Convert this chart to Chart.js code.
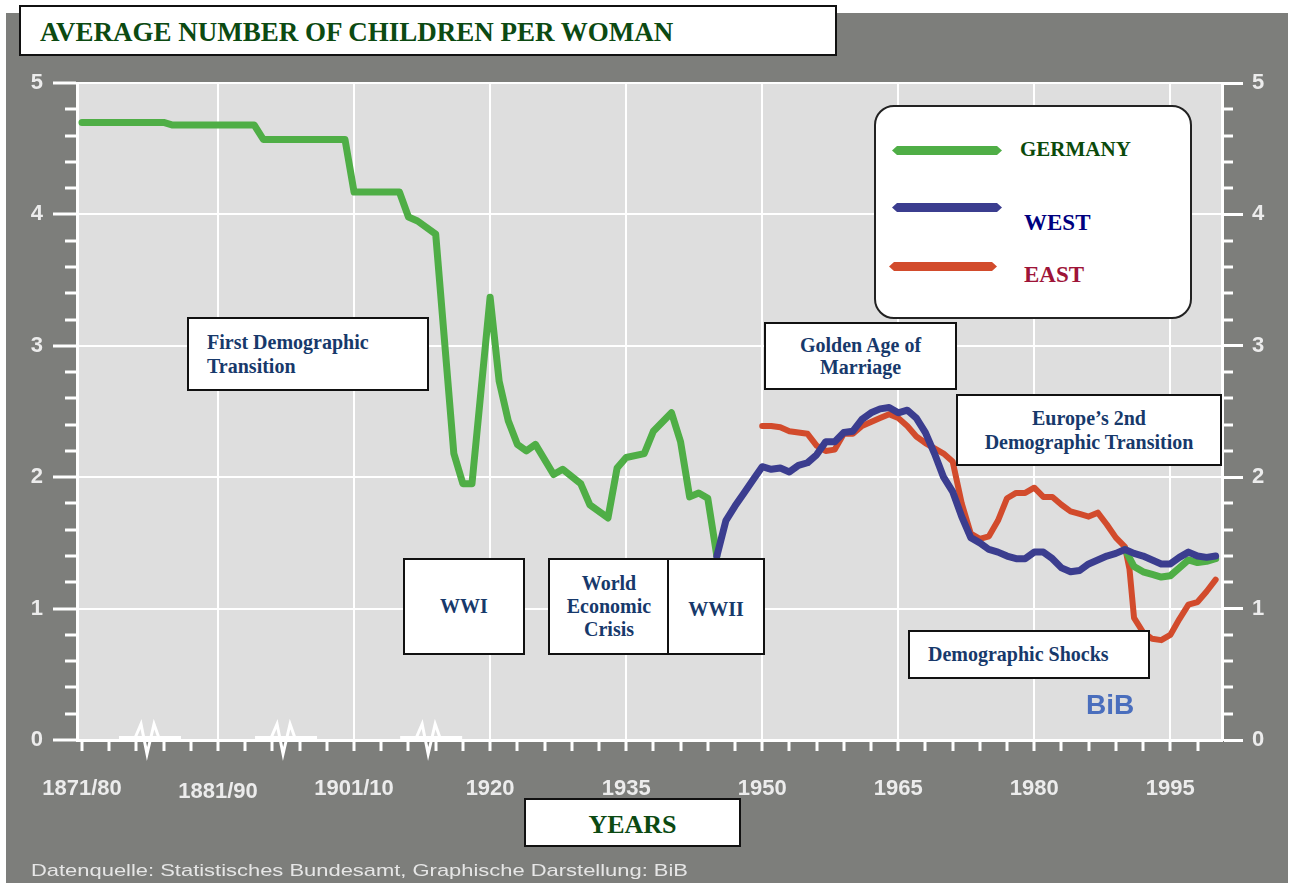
<!DOCTYPE html>
<html>
<head>
<meta charset="utf-8">
<script src="https://cdn.jsdelivr.net/npm/chart.js@4.4.1/dist/chart.umd.min.js"></script>
<style>
html,body{margin:0;padding:0;background:#fff;}
#wrap{position:relative;width:1290px;height:883px;overflow:hidden;background:#fff;}
#c{position:absolute;left:0;top:0;}
.box{position:absolute;box-sizing:border-box;background:#fff;border:2px solid #111;display:flex;flex-direction:column;justify-content:center;align-items:center;text-align:center;font-family:"Liberation Serif","Times New Roman",serif;font-weight:bold;font-size:20px;line-height:23px;color:#17396b;}
.box.left{align-items:flex-start;text-align:left;padding-left:18px;}
.serif{font-family:"Liberation Serif","Times New Roman",serif;font-weight:bold;}
.abs{position:absolute;white-space:nowrap;}
.lg{position:absolute;height:9px;clip-path:polygon(5px 0,calc(100% - 5px) 0,100% 50%,calc(100% - 5px) 100%,5px 100%,0 50%);}
</style>
</head>
<body>
<div id="wrap">
  <canvas id="c" width="1290" height="883"></canvas>

  <div class="box" style="left:19px;top:5px;width:818px;height:51px;display:block;padding:12px 0 0 19px;text-align:left;">
    <span style="font-size:27px;line-height:27px;color:#0c4a12;">AVERAGE NUMBER OF CHILDREN PER WOMAN</span>
  </div>

  <div class="box left" style="left:187px;top:317px;width:242px;height:74px;line-height:24px;">First Demographic<br>Transition</div>
  <div class="box" style="left:403px;top:558px;width:122px;height:97px;">WWI</div>
  <div class="box" style="left:548px;top:558px;width:122px;height:97px;">World<br>Economic<br>Crisis</div>
  <div class="box" style="left:667px;top:558px;width:98px;height:97px;padding-top:6px;">WWII</div>
  <div class="box" style="left:764px;top:322px;width:193px;height:68px;line-height:22px;">Golden Age of<br>Marriage</div>
  <div class="box" style="left:956px;top:394px;width:266px;height:72px;line-height:24px;">Europe’s 2nd<br>Demographic Transition</div>
  <div class="box left" style="left:908px;top:630px;width:242px;height:49px;">Demographic Shocks</div>

  <div class="box" style="left:524px;top:798px;width:217px;height:49px;padding-top:4px;">
    <span style="font-size:26px;line-height:26px;color:#0c4a12;">YEARS</span>
  </div>

  <!-- legend -->
  <div style="position:absolute;left:874px;top:105px;width:318px;height:214px;box-sizing:border-box;background:#fff;border:2px solid #222;border-radius:20px;"></div>
  <div class="lg" style="left:892px;top:146px;width:110px;background:#4fae46;"></div>
  <div class="lg" style="left:892px;top:203px;width:110px;background:#3b3d8f;"></div>
  <div class="lg" style="left:889px;top:262px;width:108px;background:#d24b2c;"></div>
  <div class="abs serif" style="left:1020px;top:139px;font-size:21px;line-height:21px;color:#0b4a0b;">GERMANY</div>
  <div class="abs serif" style="left:1024px;top:211px;font-size:23px;line-height:23px;color:#00007f;">WEST</div>
  <div class="abs serif" style="left:1024px;top:263px;font-size:23px;line-height:23px;color:#9e1438;">EAST</div>

  <div class="abs" style="left:1086px;top:691px;font-family:'Liberation Sans',Arial,sans-serif;font-weight:bold;font-size:28px;line-height:28px;color:#4a6ebd;">BiB</div>
  <div id="foot" class="abs" style="left:31px;top:862px;font-family:'Liberation Sans',Arial,sans-serif;font-size:17px;line-height:17px;color:#e6e6e6;transform-origin:0 0;">Datenquelle: Statistisches Bundesamt, Graphische Darstellung: BiB</div>
</div>

<script>
// ---- data (x = position on the year axis; pre-1920 section is compressed) ----
const germanyYears  = [1875,1884,1885,1894,1895,1904,1905,1910,1911,1912,1914,1916,1917,1918,1920,1921,1922,1923,1924,1925,1927,1928,1930,1931,1933,1934,1935,1937,1938,1940,1941,1942,1943,1944,1945,1967,1990,1991,1992,1993,1994,1995,1996,1997,1998,1999,2000];
const germanyValues = [4.70,4.70,4.68,4.68,4.57,4.57,4.17,4.17,3.98,3.95,3.85,2.18,1.95,1.95,3.37,2.73,2.43,2.25,2.20,2.25,2.02,2.06,1.95,1.79,1.69,2.07,2.15,2.18,2.35,2.49,2.27,1.85,1.88,1.84,1.40,null,1.45,1.32,1.28,1.26,1.24,1.25,1.31,1.37,1.35,1.36,1.38];

const westYears  = [1945,1946,1947,1948,1949,1950,1951,1952,1953,1954,1955,1956,1957,1958,1959,1960,1961,1962,1963,1964,1965,1966,1967,1968,1969,1970,1971,1972,1973,1974,1975,1976,1977,1978,1979,1980,1981,1982,1983,1984,1985,1986,1987,1988,1989,1990,1991,1992,1993,1994,1995,1996,1997,1998,1999,2000];
const westValues = [1.40,1.67,1.78,1.88,1.98,2.08,2.06,2.07,2.04,2.09,2.11,2.17,2.27,2.27,2.34,2.35,2.44,2.49,2.52,2.53,2.49,2.51,2.45,2.34,2.18,2.00,1.89,1.70,1.54,1.50,1.45,1.43,1.40,1.38,1.38,1.43,1.43,1.38,1.31,1.28,1.29,1.34,1.37,1.40,1.42,1.45,1.42,1.40,1.37,1.34,1.34,1.39,1.43,1.40,1.39,1.40];

const eastYears  = [1950,1951,1952,1953,1954,1955,1956,1957,1958,1959,1960,1961,1962,1963,1964,1965,1966,1967,1968,1969,1970,1971,1972,1973,1974,1975,1976,1977,1978,1979,1980,1981,1982,1983,1984,1985,1986,1987,1988,1989,1990,1990.5,1991,1992,1993,1994,1995,1996,1997,1998,1999,2000];
const eastValues = [2.39,2.39,2.38,2.35,2.34,2.33,2.24,2.20,2.21,2.33,2.33,2.39,2.42,2.45,2.48,2.45,2.39,2.31,2.26,2.22,2.18,2.12,1.80,1.57,1.53,1.55,1.67,1.84,1.88,1.88,1.92,1.85,1.85,1.79,1.74,1.72,1.70,1.73,1.64,1.54,1.47,1.30,0.93,0.82,0.77,0.76,0.80,0.92,1.03,1.05,1.13,1.22];

const xTickPositions = [1875,1890,1905,1920,1935,1950,1965,1980,1995];
const xTickLabels    = ['1871/80','1881/90','1901/10','1920','1935','1950','1965','1980','1995'];
const yMinorTicks    = [0.2,0.4,0.6,0.8,1.2,1.4,1.6,1.8,2.2,2.4,2.6,2.8,3.2,3.4,3.6,3.8,4.2,4.4,4.6,4.8];
const axisBreaks     = [1882.5,1897.5,1913.5];

const toPts = (xs, ys) => xs.map((x, i) => ({x: x, y: ys[i]}));

const AXIS_FONT = 'Liberation Sans, Arial, sans-serif';
const WHITE = '#ffffff';

const decor = {
  id: 'decor',
  beforeDraw(chart) {
    const {ctx, chartArea: a} = chart;
    ctx.save();
    ctx.fillStyle = '#7d7e7b';
    ctx.fillRect(6, 13, 1282, 870);
    ctx.fillStyle = '#dedede';
    ctx.fillRect(a.left, a.top, a.right - a.left, a.bottom - a.top);
    ctx.restore();
  },
  afterDraw(chart) {
    const {ctx, chartArea: a, scales} = chart;
    ctx.save();
    ctx.strokeStyle = WHITE;
    ctx.lineWidth = 3;
    yMinorTicks.forEach(v => {
      const y = Math.round(scales.y.getPixelForValue(v));
      ctx.beginPath(); ctx.moveTo(a.left - 12, y); ctx.lineTo(a.left, y); ctx.stroke();
      ctx.beginPath(); ctx.moveTo(a.right, y); ctx.lineTo(a.right + 11, y); ctx.stroke();
    });
    const y0 = scales.y.getPixelForValue(0);
    axisBreaks.forEach(b => {
      const cx = scales.x.getPixelForValue(b);
      ctx.lineWidth = 4;
      ctx.beginPath(); ctx.moveTo(cx - 31, y0 - 2); ctx.lineTo(cx + 31, y0 - 2); ctx.stroke();
      ctx.lineWidth = 3;
      ctx.lineJoin = 'miter';
      ctx.beginPath();
      ctx.moveTo(cx - 15, y0 - 2);
      ctx.lineTo(cx - 9, y0 - 16);
      ctx.lineTo(cx - 3, y0 + 14);
      ctx.lineTo(cx + 4, y0 - 16);
      ctx.lineTo(cx + 10, y0 + 1);
      ctx.stroke();
    });
    ctx.restore();
  }
};

new Chart(document.getElementById('c'), {
  type: 'line',
  data: {
    datasets: [
      {label: 'WEST', data: toPts(westYears, westValues), borderColor: '#3b3d8f', borderWidth: 7, order: 0},
      {label: 'GERMANY', data: toPts(germanyYears, germanyValues), borderColor: '#4fae46', borderWidth: 7, order: 1},
      {label: 'EAST', data: toPts(eastYears, eastValues), borderColor: '#d24b2c', borderWidth: 6, order: 2}
    ]
  },
  options: {
    responsive: false,
    animation: false,
    spanGaps: false,
    layout: {padding: {top: 83, left: 0, right: 0, bottom: 0}},
    elements: {
      point: {radius: 0, hoverRadius: 0},
      line: {tension: 0, borderJoinStyle: 'round', borderCapStyle: 'round', fill: false}
    },
    plugins: {legend: {display: false}, tooltip: {enabled: false}, title: {display: false}},
    scales: {
      x: {
        type: 'linear', position: 'bottom', min: 1874.45, max: 2000.7,
        afterFit(s) { s.height = 143; },
        border: {display: true, color: WHITE, width: 3},
        grid: {
          color: c => (c.tick && c.tick.value % 15 === 0 && c.tick.value !== 1875) ? WHITE : 'rgba(0,0,0,0)',
          lineWidth: 2, tickColor: WHITE, tickWidth: 3, tickLength: 11, drawTicks: true
        },
        ticks: {
          stepSize: 3, includeBounds: false, autoSkip: false, maxRotation: 0, minRotation: 0,
          padding: 25, color: '#ececec',
          font: c => ({family: AXIS_FONT, weight: 'bold', size: 22, lineHeight: (c.tick && c.tick.value === 1890) ? 1.45 : 1.2}),
          callback: v => { const i = xTickPositions.indexOf(v); return i >= 0 ? xTickLabels[i] : ''; }
        }
      },
      y: {
        type: 'linear', position: 'left', min: 0, max: 5,
        afterFit(s) { s.width = 77; },
        border: {display: true, color: WHITE, width: 3},
        grid: {color: WHITE, lineWidth: 2, tickColor: WHITE, tickWidth: 3, tickLength: 24},
        ticks: {stepSize: 1, padding: 10, color: '#ececec', font: {family: AXIS_FONT, weight: 'bold', size: 22}}
      },
      y2: {
        type: 'linear', position: 'right', min: 0, max: 5,
        afterFit(s) { s.width = 68; },
        border: {display: true, color: WHITE, width: 3},
        grid: {drawOnChartArea: false, color: WHITE, tickColor: WHITE, tickWidth: 3, tickLength: 21},
        ticks: {stepSize: 1, padding: 9, color: '#ececec', font: {family: AXIS_FONT, weight: 'bold', size: 22}}
      }
    }
  },
  plugins: [decor]
});

const foot = document.getElementById('foot');
const fw = foot.getBoundingClientRect().width;
if (fw > 0) foot.style.transform = 'scaleX(' + (657 / fw) + ')';
</script>
</body>
</html>
